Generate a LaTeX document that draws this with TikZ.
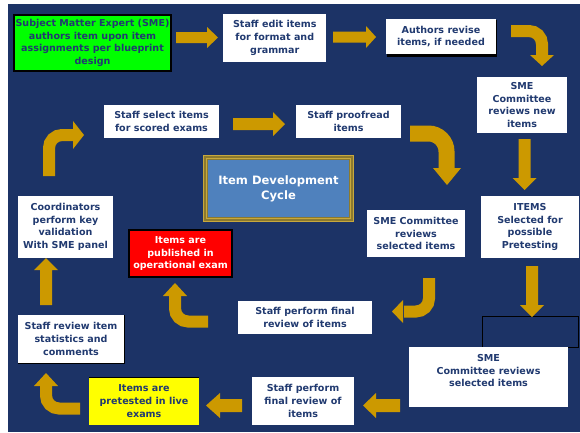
\documentclass[tikz,border=0pt]{standalone}
\usepackage{fontspec}
\setmainfont{DejaVu Sans}
\definecolor{bgnavy}{RGB}{28,51,102}
\definecolor{gold}{RGB}{204,153,0}
\definecolor{navytext}{RGB}{33,58,112}
\definecolor{cblue}{RGB}{79,129,189}
\definecolor{framedark}{RGB}{140,122,46}
\definecolor{framelight}{RGB}{200,168,60}
\definecolor{lgreen}{RGB}{0,255,0}
\definecolor{lyellow}{RGB}{255,255,0}
\definecolor{lred}{RGB}{255,0,0}
\begin{document}
\begin{tikzpicture}[x=1bp,y=-1bp,
  box/.style={fill=white, inner sep=0pt, align=center, text=navytext,
    font=\fontsize{9.6}{12.7}\selectfont\bfseries},
  gline/.style={draw=gold, line width=12bp, rounded corners=13bp},
  ghead/.style={fill=gold}]
\useasboundingbox (0,0) rectangle (580,432);
\fill[white] (0,0) rectangle (580,432);
\fill[bgnavy] (8,4) rectangle (580,432);

% center box
\fill[framedark] (203,155) rectangle (354,222);
\draw[framelight, line width=1bp] (203.5,155.5) rectangle (353.5,221.5);
\draw[framelight, line width=1bp] (206.5,158.5) rectangle (350.5,218.5);
\fill[cblue] (208,160) rectangle (349,217);
\node[align=center, text=white, font=\fontsize{11.6}{15}\selectfont\bfseries] (cycle) at (278.5,189) {Item Development\\Cycle};

% boxes
\node[box, fill=lgreen, draw=black, line width=2bp, minimum width=157bp, minimum height=56bp] (sme) at (92.5,43) {Subject Matter Expert (SME)\\authors item upon item\\assignments per blueprint\\design};
\fill[black] (222.5,14) rectangle (326,62);
\node[box, minimum width=103bp, minimum height=48bp] (edit) at (274.8,38) {Staff edit items\\for format and\\grammar};
\fill[black] (387,20) rectangle (496.5,57);
\node[box, minimum width=110bp, minimum height=35bp] (revise) at (441,36.5) {Authors revise\\items, if needed};
\node[box, minimum width=90bp, minimum height=56bp] (smenew) at (522,105) {SME\\Committee\\reviews new\\items};
\node[box, minimum width=98bp, minimum height=62bp] (select) at (530,227) {ITEMS\\Selected for\\possible\\Pretesting};
\draw[black, fill=bgnavy, line width=0.8bp] (482,316) rectangle (578,347);
\node[box, minimum width=159bp, minimum height=60bp] (smesel) at (488.5,377) {SME\\Committee reviews\\selected items\\\mbox{}};
\node[box, minimum width=102bp, minimum height=48bp] (finalb) at (303,401) {Staff perform\\final review of\\items};
\node[box, fill=lyellow, minimum width=110bp, minimum height=48bp] (pretest) at (144,401) {Items are\\pretested in live\\exams};
\draw[black, line width=0.6bp] (pretest.north west) -- (pretest.north east);
\node[box, minimum width=106bp, minimum height=48bp] (stats) at (71,339) {Staff review item\\statistics and\\comments};
\draw[black, line width=0.8bp] (stats.north east) -- (stats.south east) -- (stats.south west);
\node[box, minimum width=95bp, minimum height=62bp] (coord) at (65.5,227) {Coordinators\\perform key\\validation\\With SME panel};
\node[box, minimum width=115bp, minimum height=33bp] (scored) at (161.5,121.5) {Staff select items\\for scored exams};
\node[box, minimum width=105bp, minimum height=33bp] (proof) at (348.5,121.5) {Staff proofread\\items};
\node[box, minimum width=98bp, minimum height=47bp] (smemid) at (416,233.5) {SME Committee\\reviews\\selected items};
\node[box, minimum width=134bp, minimum height=33bp] (finalm) at (305,317.5) {Staff perform final\\review of items};
\node[box, fill=lred, draw=black, line width=2bp, text=white, minimum width=103bp, minimum height=47bp] (pub) at (180.5,253.5) {Items are\\published in\\operational exam};

% straight arrows
\fill[gold] (176,32) -- (207,32) -- (207,27) -- (218,37.5) -- (207,48) -- (207,43) -- (176,43) -- cycle;
\fill[gold] (333,31.5) -- (366,31.5) -- (366,26) -- (376,37) -- (366,48) -- (366,42.5) -- (333,42.5) -- cycle;
\fill[gold] (518.5,139) -- (530.5,139) -- (530.5,178) -- (536.5,178) -- (524.5,190) -- (512.5,178) -- (518.5,178) -- cycle;
\fill[gold] (526,266) -- (538,266) -- (538,305) -- (544,305) -- (532,317) -- (520,305) -- (526,305) -- cycle;
\fill[gold] (400,399) -- (376,399) -- (376,393) -- (363,405.5) -- (376,418) -- (376,412) -- (400,412) -- cycle;
\fill[gold] (242,399) -- (220,399) -- (220,393) -- (206,405.5) -- (220,418) -- (220,412) -- (242,412) -- cycle;
\fill[gold] (40,305) -- (40,270) -- (34,270) -- (46,258) -- (58,270) -- (52,270) -- (52,305) -- cycle;
\fill[gold] (233,118) -- (273,118) -- (273,112) -- (285,124) -- (273,136) -- (273,130) -- (233,130) -- cycle;

% curved arrows
\draw[gline] (511,31) -- (542,31) -- (542,56);
\fill[ghead] (530,55) -- (554,55) -- (542,66) -- cycle;
\draw[gline] (80,408.5) -- (46,408.5) -- (46,386);
\fill[ghead] (34,386) -- (58,386) -- (46,373) -- cycle;
\draw[gline] (49,176) -- (49,135) -- (74,135);
\fill[ghead] (73,121) -- (84,135) -- (73,149) -- cycle;
\draw[gline, line width=16bp, rounded corners=18bp] (410,133.5) -- (446.5,133.5) -- (446.5,169);
\fill[ghead] (433,168) -- (461,168) -- (447,185) -- cycle;
\draw[gline] (429,278) -- (429,311.5) -- (404,311.5);
\fill[ghead] (403,300) -- (392,311.5) -- (403,323) -- cycle;
\draw[gline] (208,321.5) -- (175,321.5) -- (175,296);
\fill[ghead] (163,296) -- (187,296) -- (175,283) -- cycle;
\end{tikzpicture}
\end{document}
